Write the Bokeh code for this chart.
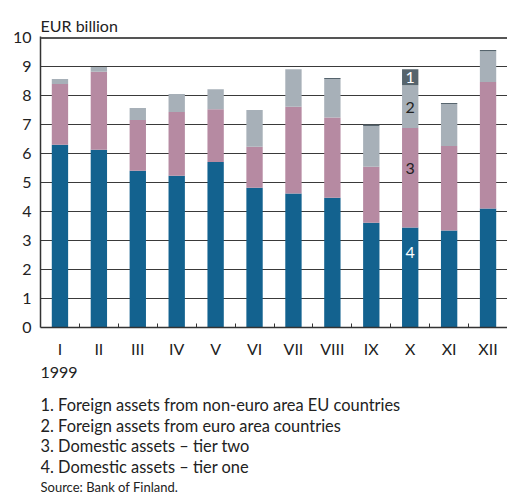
from bokeh.plotting import figure
from bokeh.layouts import column
from bokeh.models import ColumnDataSource, Range1d, FixedTicker, Label, Span
from bokeh.core.properties import value
from bokeh.embed import file_html
from bokeh.resources import INLINE

months = ["I", "II", "III", "IV", "V", "VI", "VII", "VIII", "IX", "X", "XI", "XII"]
tier_one = [6.31, 6.14, 5.41, 5.24, 5.72, 4.83, 4.63, 4.48, 3.62, 3.45, 3.35, 4.11]
tier_two = [2.10, 2.69, 1.76, 2.20, 1.82, 1.41, 2.99, 2.77, 1.93, 3.44, 2.92, 4.37]
euro_area = [0.17, 0.17, 0.41, 0.62, 0.69, 1.27, 1.30, 1.33, 1.41, 1.48, 1.45, 1.06]
non_euro_eu = [0.0, 0.0, 0.0, 0.0, 0.0, 0.0, 0.0, 0.04, 0.05, 0.55, 0.03, 0.04]
y_ticks = [0, 1, 2, 3, 4, 5, 6, 7, 8, 9, 10]
legend_lines = [
    "1. Foreign assets from non-euro area EU countries",
    "2. Foreign assets from euro area countries",
    "3. Domestic assets \u2013 tier two",
    "4. Domestic assets \u2013 tier one",
]
bar_labels = ["1", "2", "3", "4"]
bar_label_y = [8.65, 7.6, 5.5, 2.6]
labelled_month = 9

FONT = "Lato"
TXT = "#222222"
colors = ["#13628f", "#b68aa2", "#a7b0b8", "#56646d"]
keys = ["t1", "t2", "ea", "ne"]

x = [i + 0.5 for i in range(len(months))]
src = ColumnDataSource(dict(x=x, t1=tier_one, t2=tier_two, ea=euro_area, ne=non_euro_eu))

W = 507
TOP, LEFT, FRAME_H = 36, 40, 292
H1 = 360
p = figure(width=W, height=H1, output_backend="svg", toolbar_location=None,
           x_range=Range1d(0, 12), y_range=Range1d(0, 10.05),
           min_border_left=LEFT, min_border_right=0, min_border_top=TOP,
           min_border_bottom=H1 - TOP - FRAME_H)
p.outline_line_color = None
p.background_fill_color = "white"
p.border_fill_color = "white"

p.title.text = "EUR billion"
p.title.align = "left"
p.title.text_font = FONT
p.title.text_font_size = "16px"
p.title.text_font_style = "normal"
p.title.text_color = TXT
p.title.standoff = 4

p.vbar_stack(keys, x="x", width=0.42, color=colors, line_color=None, source=src)

p.xgrid.visible = False
p.ygrid.ticker = FixedTicker(ticks=y_ticks)
p.ygrid.grid_line_color = "#3a3a3a"
p.ygrid.grid_line_width = 1

p.add_layout(Span(location=10, dimension="width", line_color="#555555", line_width=2))

ya = p.yaxis[0]
ya.ticker = FixedTicker(ticks=y_ticks)
ya.major_tick_out = 0
ya.major_tick_in = 0
ya.minor_tick_out = 0
ya.minor_tick_in = 0
ya.axis_line_color = "#333333"
ya.axis_line_width = 1.5
ya.major_label_standoff = 9
ya.major_label_text_font = FONT
ya.major_label_text_font_size = "16px"
ya.major_label_text_color = TXT

xa = p.xaxis[0]
xa.ticker = FixedTicker(ticks=x, minor_ticks=list(range(1, 12)))
xa.major_label_overrides = {xi: m for xi, m in zip(x, months)}
xa.major_tick_out = 0
xa.major_tick_in = 0
xa.minor_tick_out = 0
xa.minor_tick_in = 4
xa.minor_tick_line_color = "#333333"
xa.axis_line_color = "#333333"
xa.axis_line_width = 1.5
xa.major_label_standoff = 11
xa.major_label_text_font = FONT
xa.major_label_text_font_size = "16px"
xa.major_label_text_color = TXT

# labels inside bar X
lab_colors = ["white", TXT, TXT, "white"]
for t, yv, c in zip(bar_labels, bar_label_y, lab_colors):
    p.add_layout(Label(x=x[labelled_month], y=yv, text=t, text_align="center", text_baseline="middle",
                       text_font=FONT, text_font_size="16px", text_color=c))

# lower text block: a second, axis-less figure in pixel coordinates (y grows downward),
# its frame aligned with the chart's frame (x = 0 at the chart's left edge)
H2 = 496 - H1
SHIFT = 6
q = figure(width=W, height=H2, output_backend="svg", toolbar_location=None, title=None,
           x_range=Range1d(0, W - LEFT), y_range=Range1d(H2, 0),
           min_border_left=LEFT, min_border_right=0, min_border_top=0, min_border_bottom=0)
q.axis.visible = False
q.grid.visible = False
q.outline_line_color = None
q.border_fill_color = "white"

texts = ["1999"] + legend_lines
ys = [378, 410, 430.5, 451, 471.5]
sizes = ["16px"] + ["16.4px"] * 4
for t, yy, s in zip(texts, ys, sizes):
    q.text(x=[0], y=[yy - H1 - SHIFT], text=[t], text_font=value(FONT), text_font_size=value(s),
           text_color=TXT, text_baseline="alphabetic", text_align="left")
q.text(x=[0], y=[492 - H1 - SHIFT], text=["Source: Bank of Finland."], text_font=value(FONT),
       text_font_size=value("13px"), text_color=TXT, text_baseline="alphabetic", text_align="left")

layout = column(p, q, spacing=0)
open("out.html", "w").write(file_html(layout, INLINE))
